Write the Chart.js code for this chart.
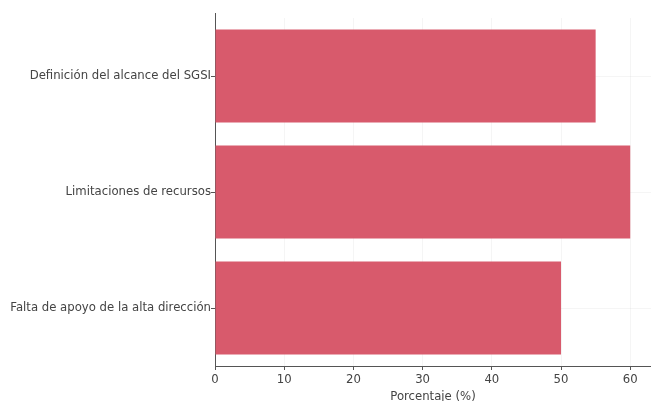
<!DOCTYPE html>
<html>
<head>
<meta charset="utf-8">
<script src="https://cdn.jsdelivr.net/npm/chart.js@4"></script>
<style>
html,body{margin:0;padding:0;background:#fff;}
#wrap{width:651px;height:401px;}
</style>
</head>
<body>
<div id="wrap"><canvas id="c" width="651" height="401"></canvas></div>
<script>
const categories = ["Definición del alcance del SGSI", "Limitaciones de recursos", "Falta de apoyo de la alta dirección"];
const values = [55, 60, 50];
const xTicks = [0, 10, 20, 30, 40, 50, 60];
const xTitle = "Porcentaje (%)";

const spineExt = {
  id: 'spineExt',
  afterDraw(chart) {
    const {ctx, chartArea} = chart;
    ctx.save();
    ctx.strokeStyle = '#555';
    ctx.lineWidth = 1;
    ctx.beginPath();
    ctx.moveTo(chartArea.left + 0.5, chartArea.top - 5);
    ctx.lineTo(chartArea.left + 0.5, chartArea.top);
    ctx.stroke();
    ctx.restore();
  }
};

const FONT = {family: 'DejaVu Sans', size: 11.7};

new Chart(document.getElementById('c'), {
  type: 'bar',
  data: {
    labels: categories,
    datasets: [{
      data: values,
      backgroundColor: 'rgb(216,90,108)',
      borderWidth: 0,
      barPercentage: 0.8,
      categoryPercentage: 1.0
    }]
  },
  options: {
    indexAxis: 'y',
    responsive: false,
    animation: false,
    devicePixelRatio: 1,
    layout: {padding: {top: 18, right: 0, bottom: 0, left: 0}},
    plugins: {legend: {display: false}, tooltip: {enabled: false}},
    scales: {
      x: {
        min: 0, max: 63,
        afterBuildTicks(scale) { scale.ticks = xTicks.map(v => ({value: v})); },
        afterFit(scale) { scale.height = 35; },
        ticks: {
          font: FONT,
          color: '#444',
          padding: 3,
          maxRotation: 0
        },
        grid: {
          color: 'rgba(0,0,0,0.04)',
          tickColor: '#555',
          tickLength: 4,
          drawOnChartArea: true
        },
        border: {display: true, color: '#555', width: 1},
        title: {
          display: true, text: xTitle,
          font: FONT,
          color: '#444',
          padding: {top: 0, bottom: -3}
        }
      },
      y: {
        afterFit(scale) { scale.width = 215; },
        ticks: {
          font: FONT,
          color: '#444',
          padding: 0
        },
        grid: {
          offset: false,
          color: 'rgba(0,0,0,0.04)',
          tickColor: '#555',
          tickLength: 4
        },
        border: {display: true, color: '#555', width: 1}
      }
    }
  },
  plugins: [spineExt]
});
</script>
</body>
</html>
